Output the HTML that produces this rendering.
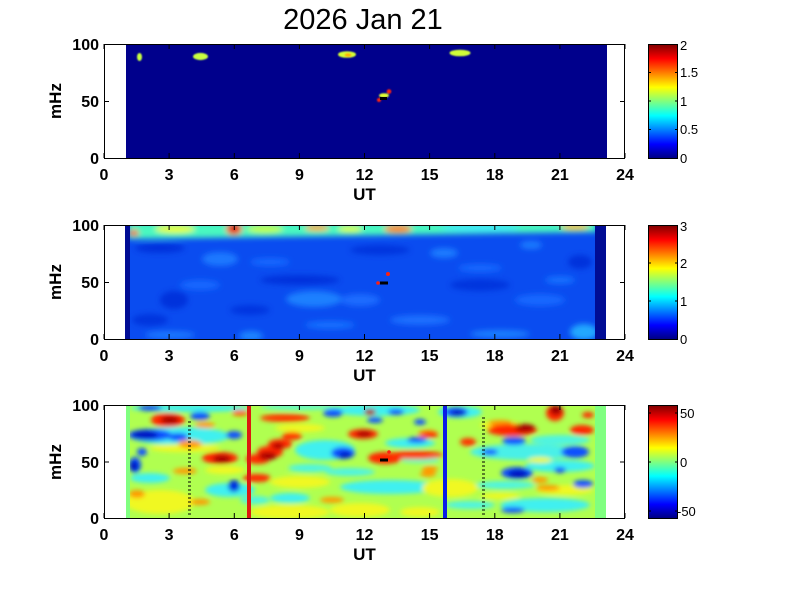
<!DOCTYPE html>
<html><head><meta charset="utf-8"><style>
html,body{margin:0;padding:0;background:#fff;}
svg{display:block;}
text{font-family:"Liberation Sans",Arial,sans-serif;fill:#000;}
.t{font-size:16px;font-weight:bold;}
.l{font-size:17px;font-weight:bold;}
.c{font-size:13px;}
</style></head><body>
<svg width="801" height="600" viewBox="0 0 801 600" xmlns="http://www.w3.org/2000/svg">
<defs>
<linearGradient id="jet" x1="0" y1="1" x2="0" y2="0">
<stop offset="0" stop-color="#000080"/>
<stop offset="0.125" stop-color="#0000ff"/>
<stop offset="0.375" stop-color="#00ffff"/>
<stop offset="0.625" stop-color="#ffff00"/>
<stop offset="0.875" stop-color="#ff0000"/>
<stop offset="1" stop-color="#800000"/>
</linearGradient>
<filter id="b1" x="-50%" y="-50%" width="200%" height="200%"><feGaussianBlur stdDeviation="0.8"/></filter>
<filter id="b2" x="-20%" y="-20%" width="140%" height="140%"><feGaussianBlur stdDeviation="3"/></filter>
<filter id="b3" x="-20%" y="-20%" width="140%" height="140%"><feGaussianBlur stdDeviation="2.4"/></filter>
<clipPath id="c1"><rect x="126" y="44" width="481" height="114"/></clipPath>
<clipPath id="c2"><rect x="130" y="225" width="465" height="114"/></clipPath>
<clipPath id="c3"><rect x="130" y="405" width="465" height="113"/></clipPath>
</defs>
<rect width="801" height="600" fill="#fff"/>

<text x="363" y="29" font-size="29" text-anchor="middle">2026 Jan 21</text>

<!-- ============ PANEL 1 ============ -->
<rect x="126" y="44" width="481" height="114" fill="#00008c"/>
<g clip-path="url(#c1)">
<g filter="url(#b1)">
<ellipse cx="139.5" cy="57" rx="2.5" ry="4" fill="#c8ff40"/>
<ellipse cx="200.5" cy="56.5" rx="7.5" ry="3.6" fill="#c8ff40"/>
<ellipse cx="347" cy="54.5" rx="9" ry="3.3" fill="#d4ff34"/>
<ellipse cx="348" cy="55" rx="3.5" ry="1.8" fill="#ffb000"/>
<ellipse cx="460" cy="53" rx="10.5" ry="3.3" fill="#d0ff38"/>
<ellipse cx="384" cy="95.5" rx="5" ry="2.3" fill="#e0ff30"/>
<circle cx="379" cy="100" r="2" fill="#ff2010"/>
<circle cx="389" cy="91.5" r="2.3" fill="#ff2010"/>
</g>
<rect x="380" y="97" width="7" height="3" fill="#000"/>
</g>
<rect x="104.5" y="44.5" width="520" height="114" fill="none" stroke="#000" stroke-width="1"/>
<path d="M104 158v-5M104 44v5M169.1 158v-5M169.1 44v5M234.3 158v-5M234.3 44v5M299.4 158v-5M299.4 44v5M364.5 158v-5M364.5 44v5M429.6 158v-5M429.6 44v5M494.8 158v-5M494.8 44v5M559.9 158v-5M559.9 44v5M625 158v-5M625 44v5M104 101.5h5M625 101.5h-5" stroke="#000" stroke-width="1" fill="none"/>
<g class="t" text-anchor="end">
<text x="99" y="50">100</text><text x="99" y="107">50</text><text x="99" y="164">0</text>
</g>
<g class="t" text-anchor="middle">
<text x="104" y="180">0</text><text x="169.1" y="180">3</text><text x="234.3" y="180">6</text><text x="299.4" y="180">9</text><text x="364.5" y="180">12</text><text x="429.6" y="180">15</text><text x="494.8" y="180">18</text><text x="559.9" y="180">21</text><text x="625" y="180">24</text>
</g>
<text class="l" x="364.5" y="200" text-anchor="middle">UT</text>
<text class="l" transform="translate(61,101) rotate(-90)" text-anchor="middle">mHz</text>
<rect x="648.5" y="44.5" width="29" height="114" fill="url(#jet)" stroke="#000" stroke-width="1"/>
<path d="M648 72.5h3M678 72.5h-3M648 101h3M678 101h-3M648 129.5h3M678 129.5h-3" stroke="#000"/>
<g class="c">
<text x="680" y="50">2</text><text x="680" y="77">1.5</text><text x="680" y="106">1</text><text x="680" y="134">0.5</text><text x="680" y="163">0</text>
</g>

<!-- ============ PANEL 2 ============ -->
<rect x="125" y="225" width="5" height="114" fill="#000c94"/>
<rect x="595" y="225" width="11" height="114" fill="#000c94"/>
<rect x="130" y="225" width="465" height="114" fill="#0a4cf0"/>
<g clip-path="url(#c2)">
<g filter="url(#b2)">
<ellipse cx="160" cy="248" rx="25" ry="5" fill="#0430dc"/>
<ellipse cx="174" cy="300" rx="14" ry="9" fill="#0430dc"/>
<ellipse cx="300" cy="280" rx="40" ry="5" fill="#0432dc"/>
<ellipse cx="580" cy="262" rx="12" ry="7" fill="#0430dc"/>
<ellipse cx="150" cy="320" rx="18" ry="6" fill="#0434de"/>
<ellipse cx="480" cy="285" rx="30" ry="6" fill="#0434de"/>
<ellipse cx="380" cy="250" rx="30" ry="5" fill="#0434de"/>
<ellipse cx="250" cy="310" rx="20" ry="5" fill="#0436e0"/>
<ellipse cx="220" cy="259" rx="18" ry="7" fill="#1a78ff"/>
<ellipse cx="314" cy="299" rx="28" ry="8" fill="#1a80ff"/>
<ellipse cx="444" cy="253" rx="14" ry="5" fill="#1a7cff"/>
<ellipse cx="531" cy="245" rx="11" ry="4" fill="#1a7cff"/>
<ellipse cx="584" cy="332" rx="14" ry="8" fill="#20a8ff"/>
<ellipse cx="251" cy="336" rx="12" ry="5" fill="#1a84ff"/>
<ellipse cx="170" cy="335" rx="25" ry="4" fill="#1a78ff"/>
<ellipse cx="420" cy="320" rx="30" ry="5" fill="#1a70ff"/>
<ellipse cx="500" cy="334" rx="30" ry="4" fill="#1a80ff"/>
<ellipse cx="360" cy="300" rx="20" ry="6" fill="#1a6cff"/>
<ellipse cx="200" cy="285" rx="20" ry="5" fill="#1868ff"/>
<ellipse cx="540" cy="300" rx="25" ry="6" fill="#1868ff"/>
<ellipse cx="270" cy="262" rx="20" ry="4" fill="#1868ff"/>
<ellipse cx="480" cy="268" rx="22" ry="4" fill="#1868ff"/>
<ellipse cx="330" cy="325" rx="25" ry="4" fill="#1870ff"/>
<ellipse cx="560" cy="280" rx="15" ry="4" fill="#1870ff"/>
<polygon points="128,222 597,222 597,232 128,239" fill="#48f8c0"/>
<ellipse cx="175" cy="229" rx="20" ry="4" fill="#e8ff20"/>
<ellipse cx="265" cy="229" rx="18" ry="4" fill="#c0ff40"/>
<ellipse cx="234" cy="229" rx="8" ry="6" fill="#ff4000"/>
<ellipse cx="234" cy="228" rx="4" ry="3" fill="#c00000"/>
<ellipse cx="317" cy="228" rx="12" ry="3" fill="#ffa000"/>
<ellipse cx="350" cy="229" rx="12" ry="3" fill="#e0ff20"/>
<ellipse cx="398" cy="229" rx="14" ry="4" fill="#ff8000"/>
<ellipse cx="575" cy="227" rx="14" ry="3" fill="#ffc000"/>
<ellipse cx="134" cy="233" rx="5" ry="3" fill="#ff3000"/>
<ellipse cx="480" cy="228" rx="40" ry="3" fill="#40e8ff"/>
</g>
<circle cx="378" cy="283" r="1.8" fill="#ff2010"/>
<circle cx="388" cy="274" r="2" fill="#ff2010"/>
<rect x="380" y="281.5" width="8" height="3" fill="#000"/>
</g>
<rect x="104.5" y="225.5" width="520" height="114" fill="none" stroke="#000" stroke-width="1"/>
<path d="M104 339v-5M104 225v5M169.1 339v-5M169.1 225v5M234.3 339v-5M234.3 225v5M299.4 339v-5M299.4 225v5M364.5 339v-5M364.5 225v5M429.6 339v-5M429.6 225v5M494.8 339v-5M494.8 225v5M559.9 339v-5M559.9 225v5M625 339v-5M625 225v5M104 282.5h5M625 282.5h-5" stroke="#000" stroke-width="1" fill="none"/>
<g class="t" text-anchor="end">
<text x="99" y="231">100</text><text x="99" y="288">50</text><text x="99" y="345">0</text>
</g>
<g class="t" text-anchor="middle">
<text x="104" y="361">0</text><text x="169.1" y="361">3</text><text x="234.3" y="361">6</text><text x="299.4" y="361">9</text><text x="364.5" y="361">12</text><text x="429.6" y="361">15</text><text x="494.8" y="361">18</text><text x="559.9" y="361">21</text><text x="625" y="361">24</text>
</g>
<text class="l" x="364.5" y="381" text-anchor="middle">UT</text>
<text class="l" transform="translate(61,282) rotate(-90)" text-anchor="middle">mHz</text>
<rect x="648.5" y="225.5" width="29" height="114" fill="url(#jet)" stroke="#000" stroke-width="1"/>
<path d="M648 263h3M678 263h-3M648 301h3M678 301h-3" stroke="#000"/>
<g class="c">
<text x="680" y="231">3</text><text x="680" y="268">2</text><text x="680" y="306">1</text><text x="680" y="344">0</text>
</g>

<!-- ============ PANEL 3 ============ -->
<rect x="126" y="405" width="480" height="113" fill="#80ff80"/>
<rect x="130" y="405" width="465" height="113" fill="#b0ff50"/>
<g clip-path="url(#c3)">
<g filter="url(#b3)">
<!-- cyan streaks -->
<ellipse cx="190" cy="408" rx="60" ry="4" fill="#40f0f0"/>
<ellipse cx="300" cy="407" rx="40" ry="3" fill="#60f8d0"/>
<ellipse cx="180" cy="436" rx="50" ry="9" fill="#40f0f0"/>
<ellipse cx="325" cy="450" rx="30" ry="10" fill="#40f0f0"/>
<ellipse cx="310" cy="468" rx="22" ry="4" fill="#50f4e0"/>
<ellipse cx="375" cy="410" rx="45" ry="6" fill="#40f0f0"/>
<ellipse cx="410" cy="443" rx="25" ry="5" fill="#40f0f0"/>
<ellipse cx="525" cy="452" rx="55" ry="8" fill="#48f0e8"/>
<ellipse cx="560" cy="466" rx="35" ry="6" fill="#40f0f0"/>
<ellipse cx="505" cy="485" rx="30" ry="4" fill="#50f4e0"/>
<ellipse cx="545" cy="505" rx="45" ry="7" fill="#40f0f0"/>
<ellipse cx="390" cy="487" rx="50" ry="7" fill="#40f0f0"/>
<ellipse cx="230" cy="490" rx="25" ry="7" fill="#40f0f0"/>
<ellipse cx="150" cy="478" rx="20" ry="5" fill="#40f0f0"/>
<ellipse cx="290" cy="498" rx="20" ry="5" fill="#40f0f0"/>
<ellipse cx="460" cy="412" rx="22" ry="6" fill="#40f0f0"/>
<ellipse cx="350" cy="472" rx="25" ry="4" fill="#50f4e0"/>
<ellipse cx="560" cy="440" rx="30" ry="5" fill="#50f4e0"/>
<ellipse cx="470" cy="505" rx="25" ry="4" fill="#50f4e0"/>
<ellipse cx="255" cy="500" rx="15" ry="4" fill="#50f4e0"/>
<ellipse cx="420" cy="460" rx="20" ry="3" fill="#60f8d0"/>
<!-- yellow -->
<ellipse cx="160" cy="502" rx="35" ry="12" fill="#f0f820"/>
<ellipse cx="290" cy="512" rx="40" ry="7" fill="#f0f820"/>
<ellipse cx="225" cy="470" rx="20" ry="4" fill="#f0f820"/>
<ellipse cx="300" cy="482" rx="30" ry="6" fill="#f0f820"/>
<ellipse cx="360" cy="510" rx="30" ry="7" fill="#f0f820"/>
<ellipse cx="450" cy="488" rx="28" ry="9" fill="#f0f820"/>
<ellipse cx="500" cy="425" rx="20" ry="4" fill="#f0f820"/>
<ellipse cx="565" cy="490" rx="28" ry="5" fill="#f0f820"/>
<ellipse cx="420" cy="512" rx="20" ry="5" fill="#f0f820"/>
<ellipse cx="185" cy="448" rx="35" ry="4" fill="#f0f820"/>
<ellipse cx="300" cy="428" rx="25" ry="4" fill="#f0f820"/>
<ellipse cx="500" cy="496" rx="20" ry="3" fill="#f0f820"/>
<ellipse cx="540" cy="460" rx="12" ry="3" fill="#f0f820"/>
<!-- orange -->
<ellipse cx="190" cy="444" rx="12" ry="4" fill="#ff9a00"/>
<ellipse cx="185" cy="471" rx="12" ry="3" fill="#ff9a00"/>
<ellipse cx="137" cy="494" rx="8" ry="4" fill="#ff9a00"/>
<ellipse cx="200" cy="502" rx="10" ry="3" fill="#ff9a00"/>
<ellipse cx="332" cy="500" rx="12" ry="3" fill="#ff9a00"/>
<ellipse cx="428" cy="474" rx="8" ry="3" fill="#ff9a00"/>
<ellipse cx="548" cy="488" rx="12" ry="3" fill="#ff9a00"/>
<ellipse cx="428" cy="434" rx="10" ry="4" fill="#ff8000"/>
<ellipse cx="240" cy="413" rx="8" ry="3" fill="#ff6000"/>
<ellipse cx="500" cy="423" rx="12" ry="3" fill="#ff9a00"/>
<ellipse cx="540" cy="480" rx="8" ry="3" fill="#ff9a00"/>
<ellipse cx="430" cy="469" rx="8" ry="3" fill="#ff9a00"/>
<ellipse cx="205" cy="425" rx="10" ry="3" fill="#ff9a00"/>
<!-- red -->
<ellipse cx="168" cy="420" rx="17" ry="7" fill="#ff2800"/>
<ellipse cx="170" cy="420" rx="9" ry="4" fill="#a80000"/>
<ellipse cx="220" cy="458" rx="18" ry="6" fill="#ff2800"/>
<ellipse cx="222" cy="459" rx="9" ry="4" fill="#a80000"/>
<ellipse cx="258" cy="459" rx="12" ry="5" fill="#ff2800"/>
<ellipse cx="270" cy="452" rx="13" ry="6" fill="#ff2800"/>
<ellipse cx="280" cy="444" rx="12" ry="5" fill="#ff2800"/>
<ellipse cx="292" cy="436" rx="10" ry="4" fill="#ff3000"/>
<ellipse cx="268" cy="456" rx="9" ry="4" fill="#a80000"/>
<ellipse cx="278" cy="446" rx="6" ry="3" fill="#a80000"/>
<ellipse cx="285" cy="418" rx="25" ry="4" fill="#ff3800"/>
<ellipse cx="257" cy="478" rx="14" ry="4" fill="#ff2800"/>
<ellipse cx="363" cy="434" rx="15" ry="5" fill="#ff2800"/>
<ellipse cx="364" cy="434" rx="8" ry="3" fill="#a80000"/>
<ellipse cx="370" cy="412" rx="6" ry="3" fill="#a80000"/>
<ellipse cx="385" cy="458" rx="17" ry="6" fill="#ff2800"/>
<ellipse cx="415" cy="455" rx="28" ry="4" fill="#ff3000"/>
<ellipse cx="430" cy="435" rx="8" ry="3" fill="#ff2800"/>
<ellipse cx="468" cy="442" rx="8" ry="4" fill="#ff3000"/>
<ellipse cx="512" cy="430" rx="25" ry="6" fill="#ff2800"/>
<ellipse cx="525" cy="428" rx="10" ry="4" fill="#a80000"/>
<ellipse cx="555" cy="413" rx="9" ry="8" fill="#ff2800"/>
<ellipse cx="556" cy="410" rx="6" ry="5" fill="#a00000"/>
<ellipse cx="582" cy="430" rx="12" ry="5" fill="#ff2800"/>
<ellipse cx="588" cy="415" rx="6" ry="3" fill="#ff2800"/>
<!-- blue -->
<ellipse cx="150" cy="435" rx="22" ry="6" fill="#1050ff"/>
<ellipse cx="145" cy="435" rx="13" ry="4" fill="#0010c0"/>
<ellipse cx="178" cy="437" rx="10" ry="4" fill="#1050ff"/>
<ellipse cx="135" cy="465" rx="6" ry="8" fill="#1050ff"/>
<ellipse cx="134" cy="466" rx="4" ry="5" fill="#0010c0"/>
<ellipse cx="142" cy="452" rx="5" ry="4" fill="#1050ff"/>
<ellipse cx="200" cy="416" rx="10" ry="4" fill="#1050ff"/>
<ellipse cx="150" cy="408" rx="12" ry="3" fill="#1050ff"/>
<ellipse cx="234" cy="486" rx="6" ry="6" fill="#0030e0"/>
<ellipse cx="234" cy="435" rx="8" ry="4" fill="#1050ff"/>
<ellipse cx="343" cy="453" rx="12" ry="6" fill="#1050ff"/>
<ellipse cx="345" cy="455" rx="6" ry="3" fill="#0010c0"/>
<ellipse cx="333" cy="413" rx="10" ry="4" fill="#1050ff"/>
<ellipse cx="456" cy="412" rx="12" ry="5" fill="#1050ff"/>
<ellipse cx="458" cy="413" rx="7" ry="3" fill="#0010c0"/>
<ellipse cx="420" cy="422" rx="6" ry="3" fill="#1050ff"/>
<ellipse cx="417" cy="440" rx="10" ry="3" fill="#1050ff"/>
<ellipse cx="514" cy="441" rx="12" ry="4" fill="#1050ff"/>
<ellipse cx="517" cy="473" rx="16" ry="6" fill="#1050ff"/>
<ellipse cx="518" cy="474" rx="10" ry="4" fill="#0010c0"/>
<ellipse cx="575" cy="452" rx="14" ry="6" fill="#1050ff"/>
<ellipse cx="583" cy="484" rx="10" ry="4" fill="#1050ff"/>
<ellipse cx="513" cy="510" rx="12" ry="3" fill="#1050ff"/>
<ellipse cx="375" cy="420" rx="8" ry="3" fill="#1050ff"/>
<ellipse cx="490" cy="452" rx="8" ry="3" fill="#1050ff"/>
<ellipse cx="560" cy="470" rx="6" ry="3" fill="#1050ff"/>
<ellipse cx="396" cy="412" rx="8" ry="3" fill="#1050ff"/>
</g>
<rect x="380" y="458.5" width="8" height="3" fill="#000"/>
<circle cx="389" cy="452" r="1.8" fill="#ff2010"/>
</g>
<rect x="247" y="405" width="4" height="113" fill="#dc1a10"/>
<rect x="443" y="405" width="4" height="113" fill="#0a1ce6"/>
<path d="M188 422h3M188 426h3M188 430h3M188 434h3M188 438h3M188 442h3M188 446h3M188 450h3M188 454h3M188 458h3M188 462h3M188 466h3M188 470h3M188 474h3M188 478h3M188 482h3M188 486h3M188 490h3M188 494h3M188 498h3M188 502h3M188 506h3M188 510h3M188 514h3M482 418h3M482 422h3M482 426h3M482 430h3M482 434h3M482 438h3M482 442h3M482 446h3M482 450h3M482 454h3M482 458h3M482 462h3M482 466h3M482 470h3M482 474h3M482 478h3M482 482h3M482 486h3M482 490h3M482 494h3M482 498h3M482 502h3M482 506h3M482 510h3M482 514h3" stroke="#000" stroke-width="1"/>
<rect x="104.5" y="405.5" width="520" height="113" fill="none" stroke="#000" stroke-width="1"/>
<path d="M104 518v-5M104 405v5M169.1 518v-5M169.1 405v5M234.3 518v-5M234.3 405v5M299.4 518v-5M299.4 405v5M364.5 518v-5M364.5 405v5M429.6 518v-5M429.6 405v5M494.8 518v-5M494.8 405v5M559.9 518v-5M559.9 405v5M625 518v-5M625 405v5M104 462h5M625 462h-5" stroke="#000" stroke-width="1" fill="none"/>
<g class="t" text-anchor="end">
<text x="99" y="411">100</text><text x="99" y="468">50</text><text x="99" y="524">0</text>
</g>
<g class="t" text-anchor="middle">
<text x="104" y="540">0</text><text x="169.1" y="540">3</text><text x="234.3" y="540">6</text><text x="299.4" y="540">9</text><text x="364.5" y="540">12</text><text x="429.6" y="540">15</text><text x="494.8" y="540">18</text><text x="559.9" y="540">21</text><text x="625" y="540">24</text>
</g>
<text class="l" x="364.5" y="560" text-anchor="middle">UT</text>
<text class="l" transform="translate(61,462) rotate(-90)" text-anchor="middle">mHz</text>
<rect x="648.5" y="405.5" width="29" height="113" fill="url(#jet)" stroke="#000" stroke-width="1"/>
<path d="M648 413h3M678 413h-3M648 462h3M678 462h-3M648 511h3M678 511h-3" stroke="#000"/>
<g class="c">
<text x="680" y="418">50</text><text x="680" y="467">0</text><text x="677" y="516">-50</text>
</g>
</svg>
</body></html>
